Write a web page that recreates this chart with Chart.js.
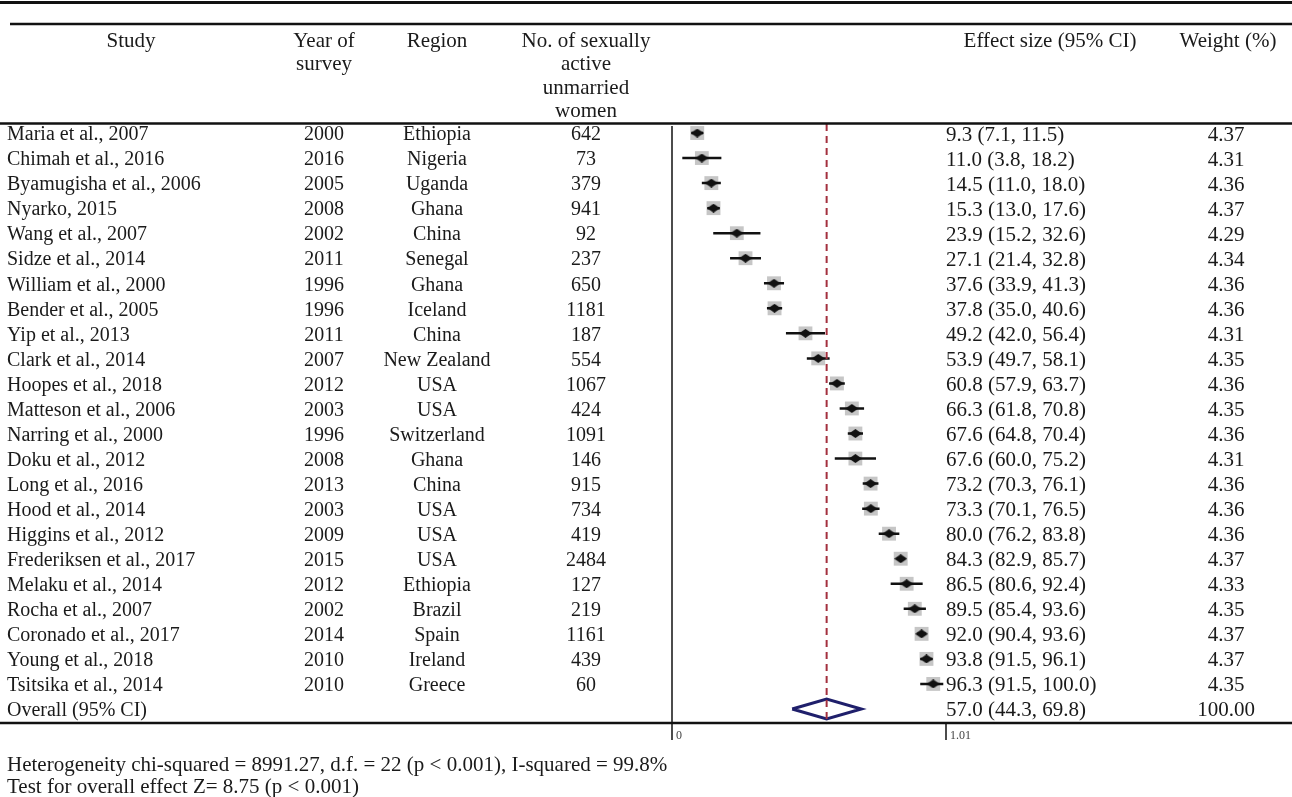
<!DOCTYPE html>
<html lang="en">
<head>
    <meta charset="UTF-8">
    <title>Forest plot - premarital sexual activity</title>
    <script src="https://cdn.jsdelivr.net/npm/chart.js@4.4.1/dist/chart.umd.min.js"></script>
    <style>
        html, body {
            margin: 0;
            padding: 0;
            background: #fff;
        }

        #wrap {
            width: 1292px;
            height: 797px;
            position: relative;
        }
    </style>
</head>
<body>
<div id="wrap"><canvas id="forest"></canvas></div>

<script>
    // table / plot data (effect sizes in %)
    const studies = ['Maria et al., 2007', 'Chimah et al., 2016', 'Byamugisha et al., 2006', 'Nyarko, 2015',
        'Wang et al., 2007', 'Sidze et al., 2014', 'William et al., 2000', 'Bender et al., 2005', 'Yip et al., 2013',
        'Clark et al., 2014', 'Hoopes et al., 2018', 'Matteson et al., 2006', 'Narring et al., 2000', 'Doku et al., 2012',
        'Long et al., 2016', 'Hood et al., 2014', 'Higgins et al., 2012', 'Frederiksen et al., 2017', 'Melaku et al., 2014',
        'Rocha et al., 2007', 'Coronado et al., 2017', 'Young et al., 2018', 'Tsitsika et al., 2014']
    const years = [2000, 2016, 2005, 2008, 2002, 2011, 1996, 1996, 2011, 2007, 2012, 2003, 1996, 2008, 2013, 2003,
        2009, 2015, 2012, 2002, 2014, 2010, 2010]
    const regions = ['Ethiopia', 'Nigeria', 'Uganda', 'Ghana', 'China', 'Senegal', 'Ghana', 'Iceland', 'China',
        'New Zealand', 'USA', 'USA', 'Switzerland', 'Ghana', 'China', 'USA', 'USA', 'USA', 'Ethiopia', 'Brazil',
        'Spain', 'Ireland', 'Greece']
    const sampleSizes = [642, 73, 379, 941, 92, 237, 650, 1181, 187, 554, 1067, 424, 1091, 146, 915, 734, 419, 2484,
        127, 219, 1161, 439, 60]
    const effects = [9.3, 11.0, 14.5, 15.3, 23.9, 27.1, 37.6, 37.8, 49.2, 53.9, 60.8, 66.3, 67.6, 67.6, 73.2, 73.3,
        80.0, 84.3, 86.5, 89.5, 92.0, 93.8, 96.3]
    const lower = [7.1, 3.8, 11.0, 13.0, 15.2, 21.4, 33.9, 35.0, 42.0, 49.7, 57.9, 61.8, 64.8, 60.0, 70.3, 70.1,
        76.2, 82.9, 80.6, 85.4, 90.4, 91.5, 91.5]
    const upper = [11.5, 18.2, 18.0, 17.6, 32.6, 32.8, 41.3, 40.6, 56.4, 58.1, 63.7, 70.8, 70.4, 75.2, 76.1, 76.5,
        83.8, 85.7, 92.4, 93.6, 93.6, 96.1, 100.0]
    const weights = [4.37, 4.31, 4.36, 4.37, 4.29, 4.34, 4.36, 4.36, 4.31, 4.35, 4.36, 4.35, 4.36, 4.31, 4.36, 4.36,
        4.36, 4.37, 4.33, 4.35, 4.37, 4.37, 4.35]
    const overallEffect = 57.0, overallLower = 44.3, overallUpper = 69.8, overallWeight = 100.00
    const axisTicks = [0, 1.01]
    const footnotes = ['Heterogeneity chi-squared = 8991.27, d.f. = 22 (p < 0.001), I-squared = 99.8%',
        'Test for overall effect Z= 8.75 (p < 0.001)']

    const overallRow = studies.length
    const fmt = v => v.toFixed(1)
    const TXT = 2  // serif "middle" sits a little high
    const FONT_S = '20px "Liberation Serif"', FONT_L = '21px "Liberation Serif"'

    // black point marker, a bit wider than tall
    const dot = document.createElement('canvas')
    dot.width = 13
    dot.height = 9
    const dctx = dot.getContext('2d')
    dctx.fillStyle = '#111'
    dctx.beginPath()
    dctx.moveTo(0, 4.5)
    dctx.lineTo(6.5, 0)
    dctx.lineTo(13, 4.5)
    dctx.lineTo(6.5, 9)
    dctx.closePath()
    dctx.fill()

    const ciLines = []
    effects.forEach((e, i) => {
        ciLines.push({x: lower[i] / 100, y: i}, {x: upper[i] / 100, y: i}, {x: null, y: null})
    })

    const tablePlugin = {
        id: 'table',
        afterDraw(chart) {
            const c = chart.ctx
            const x = chart.scales.x, y = chart.scales.y
            const W = chart.width
            c.save()
            c.fillStyle = '#1a1a1a'
            c.strokeStyle = '#111'

            // rules
            c.lineWidth = 3
            c.beginPath(); c.moveTo(0, 2.5); c.lineTo(W, 2.5); c.stroke()
            c.lineWidth = 2.5
            c.beginPath(); c.moveTo(10, 24); c.lineTo(W, 24); c.stroke()
            c.beginPath(); c.moveTo(0, 123.5); c.lineTo(W, 123.5); c.stroke()
            c.beginPath(); c.moveTo(0, chart.chartArea.bottom); c.lineTo(W, chart.chartArea.bottom); c.stroke()

            // axis + ticks
            c.lineWidth = 1.5
            const x0 = x.getPixelForValue(0)
            c.beginPath(); c.moveTo(x0, chart.chartArea.top + 2); c.lineTo(x0, chart.chartArea.bottom); c.stroke()
            c.font = '12px "Liberation Serif"'
            c.textBaseline = 'middle'
            c.textAlign = 'left'
            axisTicks.forEach(t => {
                const px = x.getPixelForValue(t)
                c.beginPath(); c.moveTo(px, chart.chartArea.bottom); c.lineTo(px, chart.chartArea.bottom + 17); c.stroke()
                c.fillStyle = '#444'
                c.fillText(String(t), px + 4, chart.chartArea.bottom + 13)
            })

            // header
            c.fillStyle = '#1a1a1a'
            c.font = FONT_L
            c.textAlign = 'center'
            const hy = [39, 62.5, 86, 109.5].map(v => v + TXT)
            c.fillText('Study', 131, hy[0])
            c.fillText('Year of', 324, hy[0])
            c.fillText('survey', 324, hy[1])
            c.fillText('Region', 437, hy[0])
            c.fillText('No. of sexually', 586, hy[0])
            c.fillText('active', 586, hy[1])
            c.fillText('unmarried', 586, hy[2])
            c.fillText('women', 586, hy[3])
            c.fillText('Effect size (95% CI)', 1050, hy[0])
            c.fillText('Weight (%)', 1228, hy[0])

            // rows
            studies.forEach((s, i) => {
                const py = y.getPixelForValue(i) + TXT
                c.font = FONT_S
                c.textAlign = 'left'
                c.fillText(s, 7, py)
                c.textAlign = 'center'
                c.fillText(String(years[i]), 324, py)
                c.fillText(regions[i], 437, py)
                c.fillText(String(sampleSizes[i]), 586, py)
                c.font = FONT_L
                c.fillText(weights[i].toFixed(2), 1226, py)
                c.textAlign = 'left'
                c.fillText(fmt(effects[i]) + ' (' + fmt(lower[i]) + ', ' + fmt(upper[i]) + ')', 946, py)
            })
            const oy = y.getPixelForValue(overallRow) + TXT
            c.font = FONT_S
            c.textAlign = 'left'
            c.fillText('Overall (95% CI)', 7, oy)
            c.font = FONT_L
            c.fillText(fmt(overallEffect) + ' (' + fmt(overallLower) + ', ' + fmt(overallUpper) + ')', 946, oy)
            c.textAlign = 'center'
            c.fillText(overallWeight.toFixed(2), 1226, oy)

            // footnotes
            c.textAlign = 'left'
            c.fillText(footnotes[0], 7, 763 + TXT)
            c.fillText(footnotes[1], 7, 785 + TXT)
            c.restore()
        }
    }

    const ctx = document.getElementById('forest').getContext('2d')
    const chart = new Chart(ctx, {
        type: 'scatter',
        data: {
            datasets: [{
                // overall diamond
                type: 'line',
                data: [
                    {x: overallLower / 100, y: overallRow},
                    {x: overallEffect / 100, y: overallRow - 0.4},
                    {x: overallUpper / 100, y: overallRow},
                    {x: overallEffect / 100, y: overallRow + 0.4},
                    {x: overallLower / 100, y: overallRow}
                ],
                borderColor: '#1f1f6b',
                borderWidth: 3,
                pointRadius: 0,
                fill: false,
                tension: 0,
                order: 2
            }, {
                // dashed line at overall estimate
                type: 'line',
                data: [{x: overallEffect / 100, y: -0.36}, {x: overallEffect / 100, y: overallRow + 0.4}],
                borderColor: '#a3303e',
                borderWidth: 2,
                borderDash: [7, 5],
                pointRadius: 0,
                order: 1
            }, {
                // point estimates
                data: effects.map((e, i) => ({x: e / 100, y: i})),
                pointStyle: dot,
                pointRadius: 5,
                order: 3
            }, {
                // confidence intervals
                type: 'line',
                data: ciLines,
                borderColor: '#111',
                borderWidth: 2.5,
                pointRadius: 0,
                spanGaps: false,
                order: 4
            }, {
                // weight boxes
                data: effects.map((e, i) => ({x: e / 100, y: i})),
                pointStyle: 'rect',
                pointRadius: weights.map(w => 4.7 * Math.sqrt(w)),
                backgroundColor: '#c6c6c6',
                borderWidth: 0,
                order: 5
            }]
        },
        options: {
            responsive: true,
            maintainAspectRatio: false,
            animation: false,
            events: [],
            layout: {
                padding: {left: 672, right: 346, top: 124, bottom: 74}
            },
            plugins: {
                legend: {display: false},
                tooltip: {enabled: false}
            },
            scales: {
                x: {type: 'linear', min: 0, max: 1.01, display: false},
                y: {type: 'linear', min: -0.36, max: overallRow + 0.56, reverse: true, display: false}
            }
        },
        plugins: [tablePlugin]
    })
</script>
</body>
</html>
